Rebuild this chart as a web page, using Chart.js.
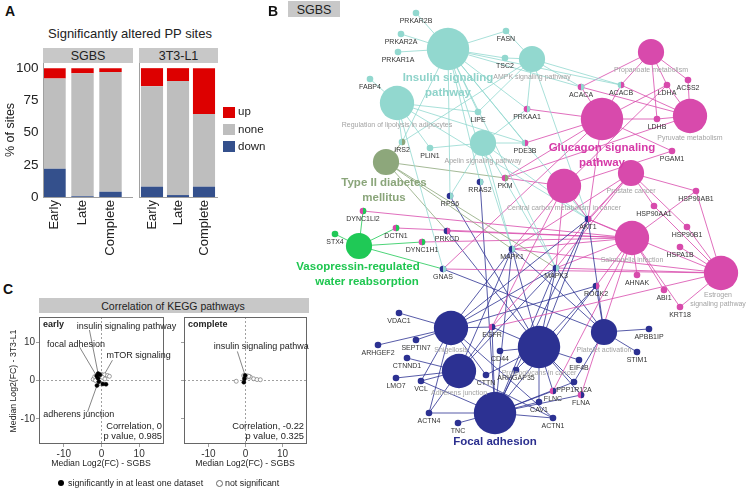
<!DOCTYPE html>
<html><head><meta charset="utf-8">
<script src="https://cdn.jsdelivr.net/npm/chart.js@4.4.1/dist/chart.umd.min.js"></script>
<style>
html,body{margin:0;padding:0;background:#fff;}
body{width:747px;height:489px;position:relative;overflow:hidden;font-family:"Liberation Sans",Arial,sans-serif;color:#222;}
canvas{position:absolute;}
.t{position:absolute;white-space:nowrap;line-height:1;}
.box{position:absolute;}
</style></head><body>
<canvas id="a1" width="130" height="205" style="left:0px;top:63px;width:130px;height:205px"></canvas>
<canvas id="a2" width="90" height="205" style="left:134px;top:63px;width:90px;height:205px"></canvas>
<canvas id="c1" width="182" height="147" style="left:0px;top:317px;width:182px;height:147px"></canvas>
<canvas id="c2" width="143" height="147" style="left:166px;top:317px;width:143px;height:147px"></canvas>
<canvas id="b" width="462" height="460" style="left:285px;top:0px;width:462px;height:460px"></canvas>
<script>
// ---------------- DATA ----------------
// Panel A: significantly altered PP sites (% of sites)
const ppCategories = ['Early', 'Late', 'Complete'];
const sgbsDown = [22, 0.5, 4];
const sgbsNone = [70, 95.5, 93];
const sgbsUp   = [8, 4, 3];
const l1Down   = [8, 1.5, 8];
const l1None   = [78, 88.5, 56.5];
const l1Up     = [14, 10, 35.5];
const ppTicks  = [0, 25, 50, 75, 100];

// Panel C: correlation of KEGG pathways (median log2 FC)
const earlySigX = [-0.9, -0.4, -0.9, -0.7, -1.2, 0.35, 1.2, -1.3];
const earlySigY = [1.8, 1.5, 0.6, -0.3, -1.3, -0.9, -1.0, 1.2];
const earlyNsX  = [0.0, 0.8, 1.6, 2.1, -2.2, 0.3, -1.6, -0.3, 0.9, -1.8];
const earlyNsY  = [1.6, 1.5, 1.3, 1.1, 0.3, 0.8, 0.0, -0.8, 0.4, 1.0];
const completeSigX = [-0.1, -0.3, -0.45];
const completeSigY = [1.3, 0.45, -0.45];
const completeNsX  = [-0.5, 0.45, 1.3, 2.2, 3.1, 4.0, -2.5, 0.5, 0.9];
const completeNsY  = [1.3, 0.9, 0.9, 0.45, 0.25, 0.2, -0.2, 1.2, 1.1];
const fcTicks = [-10, 0, 10];
const corrEarly = '0', pEarly = '0.985';
const corrComplete = '-0.22', pComplete = '0.325';

// Panel B: network (layout coordinates)
const pathwayKeys  = ['INS','AMPK','LIPO','APLN','T2D','VASO','GLUC','PROP','PYR','CCM','PROS','SALM','ESTR','SHIG','ADH','PROT','PLAT','FOC'];
const pathwayNames = ['Insulin signaling pathway','AMPK signaling pathway','Regulation of lipolysis in adipocytes','Apelin signaling pathway','Type II diabetes mellitus','Vasopressin-regulated water reabsorption','Glucagon signaling pathway','Propanoate metabolism','Pyruvate metabolism','Central carbon metabolism in cancer','Prostate cancer','Salmonella infection','Estrogen signaling pathway','Shigellosis','Adherens junction','Proteoglycans in cancer','Platelet activation','Focal adhesion'];
const pathwayHits  = [12, 6, 9, 6, 6, 6, 12, 6, 9, 9, 6, 9, 9, 9, 9, 12, 6, 12];
const pathwayX = [448, 532, 397, 483, 386, 359, 602, 651, 690, 564, 631, 632, 721, 451, 459, 539, 604, 495];
const pathwayY = [49, 59, 103, 143, 162, 246, 119, 52, 116, 186, 173, 238, 273, 328, 371, 347, 332, 413];

const geneNames = ['PRKAR2B','PRKAR2A','PRKAR1A','FASN','TSC2','FABP4','LIPE','PRKAA1','IRS2','PLIN1','PDE3B','PKM','RRAS2','RPS6','DYNC1LI2','DCTN1','STX4','PRKCD','DYNC1H1','GNAS','MAPK1','MAPK3','AKT1','ROCK2','ACACA','ACACB','LDHA','ACSS2','LDHB','PGAM1','HSP90AB1','HSP90AA1','HSP90B1','HSPA1B','AHNAK','ABI1','KRT18','VDAC1','ARHGEF2','SEPTIN7','CTNND1','LMO7','VCL','EGFR','CD44','ARHGAP35','CTTN','APBB1IP','STIM1','EIF4B','PPP1R12A','FLNC','FLNA','CAV1','ACTN1','ACTN4','TNC'];
const geneX = [416,401,398,506,505,370,478,527,402,430,525,505,480,450,363,396,335,447,422,443,512,556,588,596,581,621,667,688,657,672,696,654,687,680,637,664,680,399,378,416,407,396,421,492,500,516,486,649,637,579,574,553,581,539,553,429,458];
const geneY = [13,34,52,31,58,79,112,109,142,148,143,178,182,196,211,228,234,231,242,269,249,268,219,286,87,85,85,80,119,151,191,206,227,247,275,290,307,313,345,340,358,378,381,327,351,370,375,329,352,360,382,391,395,402,418,413,423];
const genePathways = ['INS','INS','INS','INS AMPK','INS AMPK','LIPO','INS LIPO AMPK','GLUC INS AMPK APLN','INS LIPO T2D AMPK','LIPO APLN','INS LIPO GLUC APLN','GLUC PYR CCM T2D','FOC INS','PROT INS APLN','SALM VASO','SALM VASO','VASO','PROT SALM T2D','SALM VASO','PLAT LIPO VASO GLUC ESTR',
 'FOC INS APLN T2D CCM PROS SALM ESTR SHIG ADH PROT PLAT','FOC INS APLN T2D CCM PROS SALM ESTR SHIG ADH PROT PLAT',
 'FOC GLUC INS AMPK LIPO APLN CCM PROS SALM ESTR SHIG PROT PLAT','PLAT SALM SHIG PROT FOC',
 'GLUC INS AMPK PROP PYR','INS AMPK GLUC PROP PYR','GLUC PROP PYR CCM','PROP PYR','GLUC PROP PYR','GLUC CCM',
 'PROS ESTR SALM','PROS ESTR','PROS ESTR','ESTR','SALM','SALM','ESTR SALM',
 'SHIG','SHIG','SHIG','ADH','ADH','ADH SHIG FOC','CCM ADH SHIG PROT FOC PROS ESTR','PROT','PROT FOC','PROT SHIG','PLAT','PLAT','PROT','PROT PLAT FOC','SALM FOC PROT','SALM FOC PROT','PROT FOC','FOC ADH SHIG','FOC ADH SHIG','FOC'];

// ---------------- STYLE ----------------
const FONT = '"Liberation Sans", Arial, sans-serif';
Chart.defaults.font.family = FONT;
Chart.defaults.animation = false;
const colUp = '#dd0000', colNone = '#bebebe', colDown = '#34508c';
const groupOf = {INS:'ins',AMPK:'ins',LIPO:'ins',APLN:'ins',T2D:'t2d',VASO:'vaso',GLUC:'glu',PROP:'glu',PYR:'glu',CCM:'glu',PROS:'glu',SALM:'glu',ESTR:'glu',SHIG:'foc',ADH:'foc',PROT:'foc',PLAT:'foc',FOC:'foc'};
const netCol = {ins:'#92d8cf', t2d:'#8da77b', vaso:'#1fc956', glu:'#d84aac', foc:'#2c3192'};
const bigLabelCol = {ins:'#8fd3ca', t2d:'#8aa57a', vaso:'#1fc650', glu:'#d63aa8', foc:'#2b2f8f'};
const featured = {
 'Insulin signaling pathway': {lines:['Insulin signaling','pathway'], dx:[0,0]},
 'Glucagon signaling pathway': {lines:['Glucagon signaling','pathway'], dx:[0,0]},
 'Type II diabetes mellitus': {lines:['Type II diabetes','mellitus'], dx:[-2,-2]},
 'Vasopressin-regulated water reabsorption': {lines:['Vasopressin-regulated','water reabsorption'], dx:[-1,8]},
 'Focal adhesion': {lines:['Focal adhesion'], dx:[0]}
};
const breaks = {'Estrogen signaling pathway':['Estrogen','signaling pathway']};
const nodeR = h => 5 + 1.35 * h;

// ---------------- HTML TEXT ----------------
function T(text, x, y, css, anchor, rot){
  const d = document.createElement('div'); d.className = 't'; d.textContent = text;
  d.style.left = x + 'px'; d.style.top = y + 'px';
  Object.assign(d.style, css || {});
  const tr = anchor === 'l' ? 'translate(0,-50%)' : anchor === 'r' ? 'translate(-100%,-50%)' : 'translate(-50%,-50%)';
  d.style.transform = tr + (rot ? ' rotate(' + rot + 'deg)' : '');
  document.body.appendChild(d); return d;
}
function B(x, y, w, h, css){
  const d = document.createElement('div'); d.className = 'box';
  Object.assign(d.style, {left:x+'px', top:y+'px', width:w+'px', height:h+'px'}, css || {});
  document.body.appendChild(d); return d;
}
const strip = {background:'#c8c8c8'};
// panel letters
T('A', 5, 11, {fontWeight:'bold', fontSize:'14px', color:'#111'}, 'l');
T('B', 268, 11, {fontWeight:'bold', fontSize:'14px', color:'#111'}, 'l');
T('C', 3, 289, {fontWeight:'bold', fontSize:'14px', color:'#111'}, 'l');
// panel A
T('Significantly altered PP sites', 130, 33, {fontSize:'13px'});
B(43, 48, 90, 15, strip); B(139, 48, 79, 15, strip);
T('SGBS', 88, 56, {fontSize:'12.5px'}); T('3T3-L1', 178.5, 56, {fontSize:'12.5px'});
B(42.5, 63, 1, 134, {background:'#a0a0a0'}); B(43, 196.5, 90, 1, {background:'#a0a0a0'});
B(138.5, 63, 1, 134, {background:'#a0a0a0'}); B(139, 196.5, 79, 1, {background:'#a0a0a0'});
T('% of sites', 10, 130, {fontSize:'12.5px'}, 'c', -90);
[['up', colUp, 112], ['none', colNone, 129.5], ['down', colDown, 146.5]].forEach(([lab, c, yy]) => {
  B(223, yy - 5.5, 12, 11, {background:c}); T(lab, 238, yy, {fontSize:'11.5px'}, 'l');
});
// panel B header
B(288, 1, 52, 16, strip); T('SGBS', 314, 9.5, {fontSize:'12.5px'});
// panel C
B(39, 298, 270, 15, strip); T('Correlation of KEGG pathways', 173, 305.5, {fontSize:'10.5px'});
T('Median Log2(FC) - SGBS', 101, 463, {fontSize:'8.7px'});
T('Median Log2(FC) - SGBS', 245, 463, {fontSize:'8.7px'});
T('Median Log2(FC) - 3T3-L1', 13, 381, {fontSize:'8.7px'}, 'c', -90);
B(58, 480, 6, 6, {background:'#000', borderRadius:'50%'});
T('significantly in at least one dataset', 68, 483, {fontSize:'8.9px'}, 'l');
B(215.5, 479.5, 5, 5, {background:'#fff', border:'0.8px solid #666', borderRadius:'50%'});
T('not significant', 225, 483, {fontSize:'8.9px'}, 'l');

// ---------------- PANEL A ----------------
function ppChart(id, down, none, up, opts){
  return new Chart(document.getElementById(id), {
    type: 'bar',
    data: {labels: ppCategories, datasets: [
      {label:'down', data:down, backgroundColor:colDown},
      {label:'none', data:none, backgroundColor:colNone},
      {label:'up', data:up, backgroundColor:colUp}]},
    options: {
      responsive:false, maintainAspectRatio:false, animation:false, events:[],
      layout:{padding:opts.padding},
      plugins:{legend:{display:false}, tooltip:{enabled:false}},
      datasets:{bar:{barPercentage:opts.barPct, categoryPercentage:1, borderWidth:0}},
      scales:{
        x:{stacked:true, grid:{display:false, drawTicks:false, tickLength:0}, border:{display:false},
           ticks:{autoSkip:false, minRotation:90, maxRotation:90, padding:3, color:'#222', font:{size:13}},
           afterFit:s=>{s.height = 71; s.paddingLeft = 0; s.paddingRight = 0;}},
        y:{stacked:true, min:0, max:104, grid:{display:false, drawTicks:false, tickLength:0}, border:{display:false},
           afterBuildTicks:s=>{s.ticks = ppTicks.map(v=>({value:v}));},
           ticks:{display:opts.showY, padding:2, color:'#222', font:{size:13.5}},
           afterFit:s=>{s.width = opts.yWidth; s.paddingTop = 0; s.paddingBottom = 0;}}
      }
    }
  });
}
ppChart('a1', sgbsDown, sgbsNone, sgbsUp, {padding:{left:0, right:5.5, top:0, bottom:0}, barPct:0.8, showY:true, yWidth:40.5});
ppChart('a2', l1Down, l1None, l1Up, {padding:{left:0, right:7, top:0, bottom:0}, barPct:0.85, showY:false, yWidth:5});

// ---------------- PANEL C ----------------
function corrChart(id, sx, sy, nx, ny, cfg){
  const deco = {
    id:'deco',
    beforeDatasetsDraw(chart){
      const {ctx, chartArea:a, scales:{x, y}} = chart;
      ctx.save();
      ctx.strokeStyle = '#777'; ctx.lineWidth = 0.7; ctx.setLineDash([2, 2]);
      const x0 = x.getPixelForValue(0), y0 = y.getPixelForValue(0);
      ctx.beginPath(); ctx.moveTo(x0, a.top); ctx.lineTo(x0, a.bottom); ctx.moveTo(a.left, y0); ctx.lineTo(a.right, y0); ctx.stroke();
      ctx.setLineDash([]);
      ctx.strokeStyle = '#333'; ctx.lineWidth = 0.6;
      cfg.annots.forEach(an => {
        const src = an.set === 'sig' ? [sx, sy] : [nx, ny];
        ctx.beginPath();
        ctx.moveTo(x.getPixelForValue(an.lx), y.getPixelForValue(an.ly));
        ctx.lineTo(x.getPixelForValue(src[0][an.idx]), y.getPixelForValue(src[1][an.idx]));
        ctx.stroke();
      });
      ctx.restore();
    },
    afterDatasetsDraw(chart){
      const {ctx, chartArea:a, scales:{x, y}} = chart;
      ctx.save();
      ctx.strokeStyle = '#666'; ctx.lineWidth = 1;
      ctx.strokeRect(Math.round(a.left) + 0.5, Math.round(a.top) + 0.5, Math.round(a.right - a.left) - 1, Math.round(a.bottom - a.top) - 1);
      ctx.fillStyle = '#222'; ctx.textBaseline = 'middle';
      ctx.font = '9px ' + FONT; ctx.textAlign = 'left';
      cfg.annots.forEach(an => ctx.fillText(an.label, x.getPixelForValue(an.tx), y.getPixelForValue(an.ty)));
      ctx.font = 'bold 9px ' + FONT;
      ctx.fillText(cfg.tag, a.left + 4, a.top + 8);
      ctx.font = '9.3px ' + FONT; ctx.textAlign = 'right';
      ctx.fillText('Correlation, ' + cfg.corr, a.right - cfg.rx, a.bottom - 18);
      ctx.fillText('p value, ' + cfg.p, a.right - cfg.rx, a.bottom - 7.5);
      ctx.restore();
    }
  };
  const axis = (isY) => ({
    type:'linear', min:-16.6, max:16.6,
    afterBuildTicks:s=>{s.ticks = fcTicks.map(v=>({value:v}));},
    grid:{display:true, drawOnChartArea:false, drawTicks:true, tickLength:3, color:'#777', lineWidth:0.7},
    border:{display:false},
    ticks:{display: isY ? cfg.showY : true, padding:1, color:'#333', font:{size:10}},
    afterFit: isY ? (s=>{s.width = cfg.yWidth; s.paddingTop = 0; s.paddingBottom = 0;}) : (s=>{s.height = 20; s.paddingLeft = 0; s.paddingRight = 0;})
  });
  return new Chart(document.getElementById(id), {
    type:'scatter',
    data:{datasets:[
      {data:sx.map((v,i)=>({x:v, y:sy[i]})), pointRadius:2, pointBackgroundColor:'#000', pointBorderColor:'#000', pointBorderWidth:0.5},
      {data:nx.map((v,i)=>({x:v, y:ny[i]})), pointRadius:2, pointBackgroundColor:'#fff', pointBorderColor:'#777', pointBorderWidth:0.7}
    ]},
    options:{responsive:false, maintainAspectRatio:false, animation:false, events:[],
      layout:{autoPadding:false, padding:{left:0, right:cfg.rightPad, top:0, bottom:0}},
      plugins:{legend:{display:false}, tooltip:{enabled:false}},
      scales:{x:axis(false), y:axis(true)}},
    plugins:[deco]
  });
}
corrChart('c1', earlySigX, earlySigY, earlyNsX, earlyNsY, {
  tag:'early', corr:corrEarly, p:pEarly, showY:true, yWidth:39, rightPad:18, rx:2,
  annots:[
    {label:'insulin signaling pathway', tx:-6.6, ty:14.2, lx:-3.2, ly:13.2, set:'sig', idx:0},
    {label:'focal adhesion', tx:-14.5, ty:9.5, lx:-5.8, ly:8.7, set:'sig', idx:7},
    {label:'mTOR signaling', tx:1.3, ty:6.6, lx:2.9, ly:5.3, set:'ns', idx:5},
    {label:'adherens junction', tx:-15.5, ty:-8.9, lx:-3.7, ly:-8.2, set:'sig', idx:4}
  ]});
corrChart('c2', completeSigX, completeSigY, completeNsX, completeNsY, {
  tag:'complete', corr:corrComplete, p:pComplete, showY:false, yWidth:18, rightPad:2, rx:3,
  annots:[
    {label:'insulin signaling pathway', tx:-8.6, ty:8.9, lx:-2.2, ly:7.6, set:'sig', idx:0}
  ]});

// ---------------- PANEL B ----------------
const geneGroups = genePathways.map(s => {
  const g = s.split(' ').map(k => groupOf[k]);
  const first = g[0]; const second = g.find(v => v !== first);
  return [first, second];
});
const edgePlugin = {
  id:'edges',
  beforeDatasetsDraw(chart){
    const {ctx, scales:{x, y}} = chart;
    ctx.save(); ctx.lineWidth = 0.8;
    geneNames.forEach((n, i) => {
      genePathways[i].split(' ').forEach(k => {
        const j = pathwayKeys.indexOf(k);
        ctx.strokeStyle = netCol[groupOf[k]];
        ctx.beginPath();
        ctx.moveTo(x.getPixelForValue(geneX[i]), y.getPixelForValue(geneY[i]));
        ctx.lineTo(x.getPixelForValue(pathwayX[j]), y.getPixelForValue(pathwayY[j]));
        ctx.stroke();
      });
    });
    ctx.restore();
  }
};
const labelPlugin = {
  id:'netlabels',
  afterDatasetsDraw(chart){
    const {ctx, scales:{x, y}} = chart;
    ctx.save();
    geneNames.forEach((n, i) => {
      const sec = geneGroups[i][1]; if (!sec) return;
      const px = x.getPixelForValue(geneX[i]), py = y.getPixelForValue(geneY[i]);
      ctx.fillStyle = netCol[sec];
      ctx.beginPath(); ctx.moveTo(px, py); ctx.arc(px, py, 3.3, -Math.PI / 2, Math.PI / 2); ctx.closePath(); ctx.fill();
    });
    ctx.textAlign = 'center'; ctx.textBaseline = 'middle';
    ctx.font = '7px ' + FONT; ctx.fillStyle = '#333';
    geneNames.forEach((n, i) => ctx.fillText(n, x.getPixelForValue(geneX[i]), y.getPixelForValue(geneY[i]) + 7.8));
    pathwayNames.forEach((n, i) => {
      const px = x.getPixelForValue(pathwayX[i]), py = y.getPixelForValue(pathwayY[i]);
      const r = nodeR(pathwayHits[i]);
      const f = featured[n];
      if (f) {
        ctx.font = 'bold 11.5px ' + FONT; ctx.fillStyle = bigLabelCol[groupOf[pathwayKeys[i]]];
        f.lines.forEach((l, k) => ctx.fillText(l, px + f.dx[k], py + r + 8 + k * 14.5));
      } else {
        ctx.font = '7px ' + FONT; ctx.fillStyle = '#a3a3a3';
        (breaks[n] || [n]).forEach((l, k) => ctx.fillText(l, px - (breaks[n] ? 3 : 0), py + r + 5 + k * 8.5));
      }
    });
    ctx.restore();
  }
};
new Chart(document.getElementById('b'), {
  type:'scatter',
  data:{datasets:[
    {data:pathwayX.map((v,i)=>({x:v, y:pathwayY[i]})), pointRadius:pathwayHits.map(nodeR),
     pointBackgroundColor:pathwayKeys.map(k=>netCol[groupOf[k]]), pointBorderWidth:0, clip:false},
    {data:geneX.map((v,i)=>({x:v, y:geneY[i]})), pointRadius:3.3,
     pointBackgroundColor:geneGroups.map(g=>netCol[g[0]]), pointBorderWidth:0, clip:false}
  ]},
  options:{responsive:false, maintainAspectRatio:false, animation:false, events:[],
    layout:{autoPadding:false, padding:0},
    plugins:{legend:{display:false}, tooltip:{enabled:false}},
    scales:{x:{type:'linear', display:false, min:285, max:747},
            y:{type:'linear', display:false, min:0, max:460, reverse:true}}},
  plugins:[edgePlugin, labelPlugin]
});
</script>
</body></html>
